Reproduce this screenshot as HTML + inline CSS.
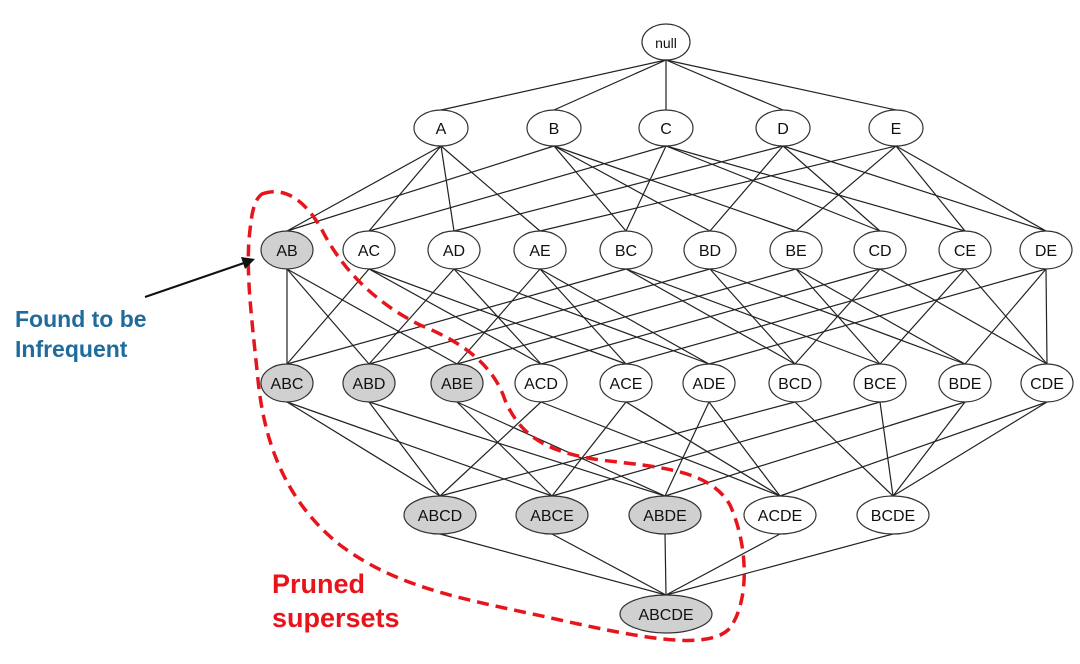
<!DOCTYPE html>
<html><head><meta charset="utf-8"><style>
html,body{margin:0;padding:0;background:#fff;width:1080px;height:664px;overflow:hidden}
svg{display:block}
text{font-family:"Liberation Sans",Arial,sans-serif}
</style></head><body>
<svg id="s" width="1080" height="664" viewBox="0 0 1080 664" xmlns="http://www.w3.org/2000/svg">
<g id="edges" stroke="#222" stroke-width="1.2"></g>
<g id="nodes"></g>
<path d="M262,194 C285,186 305,200 322,230 C340,265 370,300 420,325 C470,345 495,370 505,400 C520,435 545,452 600,460 C660,467 710,470 730,505 C748,545 750,600 730,628 C710,650 650,640 560,620 C470,600 400,590 340,545 C290,505 265,450 258,380 C252,320 245,270 250,230 C252,210 255,199 262,194 Z" fill="none" stroke="#e8141c" stroke-width="3.5" stroke-dasharray="12,7"/>
<line x1="145" y1="297" x2="244" y2="263" stroke="#111" stroke-width="2"/>
<polygon points="255,259 241,257 245,269" fill="#111"/>
<text x="15" y="327" font-size="23" font-weight="bold" fill="#1e6b9c">Found to be</text>
<text x="15" y="357" font-size="23" font-weight="bold" fill="#1e6b9c">Infrequent</text>
<text x="272" y="593" font-size="27" font-weight="bold" fill="#e8141c">Pruned</text>
<text x="272" y="627" font-size="27" font-weight="bold" fill="#e8141c">supersets</text>
</svg>
<script>
var L=[
 [["null",666]],
 [["A",441],["B",554],["C",666],["D",783],["E",896]],
 [["AB",287],["AC",369],["AD",454],["AE",540],["BC",626],["BD",710],["BE",796],["CD",880],["CE",965],["DE",1046]],
 [["ABC",287],["ABD",369],["ABE",457],["ACD",541],["ACE",626],["ADE",709],["BCD",795],["BCE",880],["BDE",965],["CDE",1047]],
 [["ABCD",440],["ABCE",552],["ABDE",665],["ACDE",780],["BCDE",893]],
 [["ABCDE",666]]];
var Y=[42,128,250,383,515,614], RX=[24,27,26,26,36,46], RY=[18,18,19,19,19,19];
var gray={"AB":1,"ABC":1,"ABD":1,"ABE":1,"ABCD":1,"ABCE":1,"ABDE":1,"ABCDE":1};
var ns="http://www.w3.org/2000/svg",E=document.getElementById("edges"),N=document.getElementById("nodes");
function sub(a,b){if(a=="null")return true;for(var i=0;i<a.length;i++)if(b.indexOf(a[i])<0)return false;return true;}
for(var l=0;l<5;l++)for(var i=0;i<L[l].length;i++)for(var j=0;j<L[l+1].length;j++){
 if(sub(L[l][i][0],L[l+1][j][0])){var e=document.createElementNS(ns,"line");
 e.setAttribute("x1",L[l][i][1]);e.setAttribute("y1",Y[l]+RY[l]);e.setAttribute("x2",L[l+1][j][1]);e.setAttribute("y2",Y[l+1]-RY[l+1]);E.appendChild(e);}}
for(var l=0;l<6;l++)for(var i=0;i<L[l].length;i++){var n=L[l][i];
 var el=document.createElementNS(ns,"ellipse");el.setAttribute("cx",n[1]);el.setAttribute("cy",Y[l]);el.setAttribute("rx",RX[l]);el.setAttribute("ry",RY[l]);
 el.setAttribute("fill",gray[n[0]]?"#d0d0d0":"#fff");el.setAttribute("stroke","#333");el.setAttribute("stroke-width","1.2");N.appendChild(el);
 var t=document.createElementNS(ns,"text");t.setAttribute("x",n[1]);t.setAttribute("y",Y[l]+6);t.setAttribute("text-anchor","middle");t.setAttribute("font-size",l==0?"14":"16");t.setAttribute("fill","#111");t.textContent=n[0];N.appendChild(t);}
</script>
</body></html>
